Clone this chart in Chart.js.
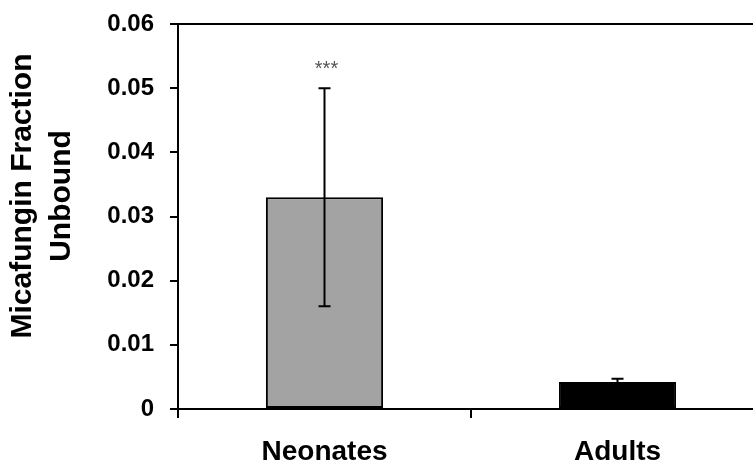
<!DOCTYPE html>
<html>
<head>
<meta charset="utf-8">
<script src="https://cdn.jsdelivr.net/npm/chart.js@4"></script>
<style>
  html, body { margin: 0; padding: 0; background: #fff; overflow: hidden; }
  #wrap { width: 775px; height: 468px; position: relative; }
</style>
</head>
<body>
<div id="wrap"><canvas id="myChart"></canvas></div>
<script>
// data
const groups = ['Neonates', 'Adults'];
const fractionUnbound = [0.033, 0.0042];
const errorSize = [0.017, 0.0005];
const significance = ['***', ''];
const barColors = ['#a3a3a3', '#000000'];
const yTicks = [0, 0.01, 0.02, 0.03, 0.04, 0.05, 0.06];

// error bars + stars
const errorBars = {
  id: 'errorBars',
  afterDatasetsDraw(chart) {
    const { ctx, scales: { x, y } } = chart;
    ctx.save();
    ctx.strokeStyle = '#000';
    ctx.lineWidth = 2;
    fractionUnbound.forEach((v, i) => {
      const cx = x.getPixelForValue(i);
      const top = y.getPixelForValue(v + errorSize[i]);
      const bot = y.getPixelForValue(Math.max(0, v - errorSize[i]));
      ctx.beginPath();
      ctx.moveTo(cx, top);
      ctx.lineTo(cx, bot);
      ctx.moveTo(cx - 6, top);
      ctx.lineTo(cx + 6, top);
      ctx.moveTo(cx - 6, bot);
      ctx.lineTo(cx + 6, bot);
      ctx.stroke();
      if (significance[i]) {
        ctx.fillStyle = '#555';
        ctx.font = '20px "Liberation Sans", Arial, sans-serif';
        ctx.textAlign = 'center';
        ctx.textBaseline = 'middle';
        ctx.fillText(significance[i], cx + 2, top - 19);
      }
    });
    ctx.restore();
  }
};

// plot box top line + y title
const frame = {
  id: 'frame',
  afterDraw(chart) {
    const { ctx, chartArea: { top, left, right } } = chart;
    ctx.save();
    ctx.strokeStyle = '#000';
    ctx.lineWidth = 2;
    ctx.beginPath();
    ctx.moveTo(left, top);
    ctx.lineTo(right, top);
    ctx.lineTo(right, chart.scales.y.bottom);
    ctx.stroke();

    ctx.translate(43, 196);
    ctx.rotate(-Math.PI / 2);
    ctx.fillStyle = '#000';
    ctx.font = 'bold 30px "Liberation Sans", Arial, sans-serif';
    ctx.textAlign = 'center';
    ctx.textBaseline = 'middle';
    ctx.fillText('Micafungin Fraction', 0, -20);
    ctx.fillText('Unbound', 0, 19);
    ctx.restore();
  }
};

const config = {
  type: 'bar',
  data: {
    labels: groups,
    datasets: [{
      data: fractionUnbound,
      backgroundColor: barColors,
      borderColor: '#000',
      borderWidth: 2,
      borderSkipped: false,
      barPercentage: 0.4,
      categoryPercentage: 1.0
    }]
  },
  options: {
    responsive: true,
    maintainAspectRatio: false,
    animation: false,
    layout: {
      padding: { top: 24, right: 11, left: 0, bottom: 0 }
    },
    plugins: {
      legend: { display: false },
      tooltip: { enabled: false }
    },
    scales: {
      x: {
        offset: true,
        grid: {
          offset: true,
          drawOnChartArea: false,
          drawTicks: true,
          tickLength: 9,
          color: '#000',
          lineWidth: 2
        },
        border: { color: '#000', width: 2 },
        ticks: {
          color: '#000',
          padding: 17,
          font: { family: '"Liberation Sans", Arial, sans-serif', size: 28, weight: 'bold' }
        },
        afterFit: (scale) => { scale.height = 59; }
      },
      y: {
        min: 0,
        max: 0.06,
        afterBuildTicks: (scale) => { scale.ticks = yTicks.map(v => ({ value: v })); },
        grid: {
          drawOnChartArea: false,
          drawTicks: true,
          tickLength: 8,
          color: '#000',
          lineWidth: 2
        },
        border: { color: '#000', width: 2 },
        ticks: {
          color: '#000',
          padding: 16,
          callback: (v) => String(Math.round(v * 100) / 100),
          font: { family: '"Liberation Sans", Arial, sans-serif', size: 24, weight: 'bold' }
        },
        afterFit: (scale) => {
          scale.width = 178;
          scale.paddingTop = 0;
          scale.paddingBottom = 0;
        }
      }
    }
  },
  plugins: [errorBars, frame]
};

const myChart = new Chart(document.getElementById('myChart'), config);
</script>
</body>
</html>
